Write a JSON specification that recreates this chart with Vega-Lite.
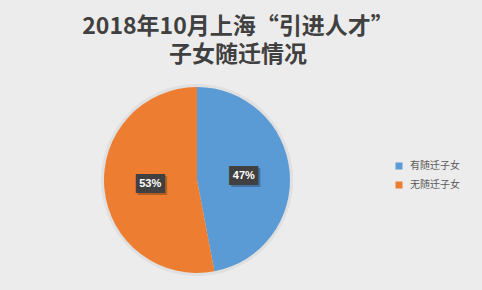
{
  "$schema": "https://vega.github.io/schema/vega-lite/v6.json",
  "width": 186,
  "height": 186,
  "autosize": {"type": "none"},
  "padding": {"left": 104, "top": 87, "right": 192, "bottom": 17},
  "background": "#ececec",
  "config": {"view": {"stroke": null}},
  "title": {
    "text": ["2018年10月上海“引进人才”", "子女随迁情况"],
    "font": "Noto Sans CJK SC",
    "fontSize": 23,
    "fontWeight": "bold",
    "color": "#404040",
    "lineHeight": 28,
    "anchor": "middle",
    "frame": "group",
    "dx": 41,
    "offset": 17
  },
  "data": {
    "values": [
      {"category": "有随迁子女", "value": 0.47},
      {"category": "无随迁子女", "value": 0.53}
    ]
  },
  "encoding": {
    "theta": {"field": "value", "type": "quantitative", "stack": true},
    "order": {"field": "value", "type": "quantitative", "sort": "ascending"}
  },
  "layer": [
    {
      "mark": {"type": "arc", "radius": 96, "color": "#c4c4c4", "opacity": 0.3}
    },
    {
      "mark": {"type": "arc", "radius": 93},
      "encoding": {
        "color": {
          "field": "category",
          "type": "nominal",
          "scale": {"domain": ["有随迁子女", "无随迁子女"], "range": ["#5B9BD5", "#ED7D31"]},
          "legend": {
            "title": null,
            "orient": "none",
            "legendX": 290,
            "legendY": 74,
            "symbolType": "square",
            "symbolSize": 49,
            "symbolStrokeWidth": 0,
            "labelFont": "Noto Sans CJK SC",
            "labelFontSize": 10,
            "labelColor": "#595959",
            "rowPadding": 9,
            "labelOffset": 6
          }
        }
      }
    },
    {
      "mark": {"type": "text", "radius": 47, "text": "███", "font": "DejaVu Sans Mono", "fontSize": 16, "color": "#000000", "opacity": 0.25, "dx": 2, "dy": 2, "align": "center", "baseline": "middle"}
    },
    {
      "mark": {"type": "text", "radius": 47, "text": "███", "font": "DejaVu Sans Mono", "fontSize": 16, "color": "#404040", "align": "center", "baseline": "middle"}
    },
    {
      "mark": {"type": "text", "radius": 47, "font": "Liberation Sans", "fontSize": 11, "fontWeight": "bold", "color": "#ffffff", "align": "center", "baseline": "middle"},
      "encoding": {
        "text": {"field": "value", "type": "quantitative", "format": ".0%"}
      }
    }
  ]
}
